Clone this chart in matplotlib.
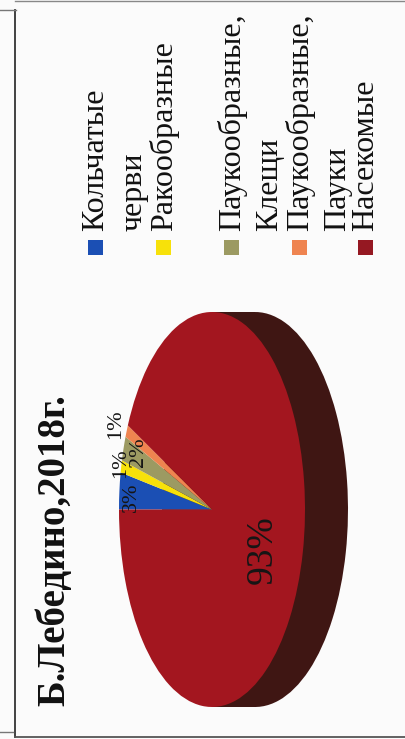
import matplotlib
matplotlib.use("Agg")
import matplotlib.pyplot as plt
from matplotlib.patches import Rectangle
import numpy as np

# --- data -----------------------------------------------------------------
title = "Б.Лебедино,2018г."
categories = ["Кольчатые\nчерви", "Ракообразные", "Паукообразные,\nКлещи",
              "Паукообразные,\nПауки", "Насекомые"]
shares = [3, 1, 2, 1, 93]          # percent
colors = ["#1b4fb4", "#f7e10a", "#9c9a62", "#ef8450", "#a3161f"]
legend_colors = ["#1b4fb4", "#f7e10a", "#9c9a62", "#ef8450", "#951822"]
side_color = "#3f1613"

W, H = 406, 739
fig = plt.figure(figsize=(W / 100, H / 100), dpi=100)
fig.patch.set_facecolor("#fbfbfb")

serif = ["Liberation Serif", "DejaVu Serif"]

# --- 3D-looking pie (the page is turned a quarter turn) -------------------
cx, cy = 212.0, 509.5      # centre of the top face, pixels from top-left
a, b = 93.0, 197.5         # semi-axes of the top face in pixels
depth = 43.0               # thickness of the disc in pixels

pax = fig.add_axes([0, 0, 1, 1])
pax.set_facecolor("none")

pax.pie(shares, colors=[side_color] * len(shares), startangle=180,
        counterclock=False, center=(depth / a, 0), radius=1,
        wedgeprops=dict(linewidth=0))
pax.add_patch(Rectangle((0, -1), depth / a, 2, facecolor=side_color,
                        edgecolor="none", zorder=0.5))
wedges, _ = pax.pie(shares, colors=colors, startangle=180, counterclock=False,
                    center=(0, 0), radius=1, wedgeprops=dict(linewidth=0))
for w in wedges:
    w.set_zorder(2)
pax.set_aspect("auto")
pax.set_xlim(-cx / a, (W - cx) / a)
pax.set_ylim(-(H - cy) / b, cy / b)
pax.axis("off")

# --- overlay in pixel coordinates ----------------------------------------
ax = fig.add_axes([0, 0, 1, 1])
ax.set_xlim(0, W)
ax.set_ylim(H, 0)
ax.axis("off")
ax.set_facecolor("none")

# page frame
ax.plot([15, 15], [10, 737], color="#333333", lw=1.3)
ax.plot([15, W], [737, 737], color="#555555", lw=1.3)
ax.plot([15, W], [1, 1], color="#888888", lw=1.0)
ax.plot([0, 16], [10, 10], color="#777777", lw=1.0)
ax.plot([0, 13], [732, 732], color="#777777", lw=1.0)

# title
ax.text(55, 706, title, rotation=90, ha="center", va="bottom",
        fontsize=28, fontweight="bold", family=serif, color="#111111")

# percentage labels
label_pos = [(131, 497), (121, 463), (139, 452), (116, 424)]
for v, (x, y) in zip(shares[:4], label_pos):
    ax.text(x, y, f"{v}%", rotation=90, ha="center", va="center",
            fontsize=16, family=serif, color="#151515")
ax.text(263, 550, f"{shares[4]}%", rotation=90, ha="center", va="center",
        fontsize=27, family=serif, color="#151515")

# legend
leg_x = [96, 164, 232, 300, 366]
line_step = 38
for name, col, x in zip(categories, legend_colors, leg_x):
    ax.add_patch(Rectangle((x - 8, 240), 15, 15, facecolor=col,
                           edgecolor="none"))
    for j, line in enumerate(name.split("\n")):
        ax.text(x + j * line_step, 231, line, rotation=90, ha="center",
                va="bottom", fontsize=23, family=serif, color="#111111")

fig.savefig("out.png", dpi=100, facecolor=fig.get_facecolor())
